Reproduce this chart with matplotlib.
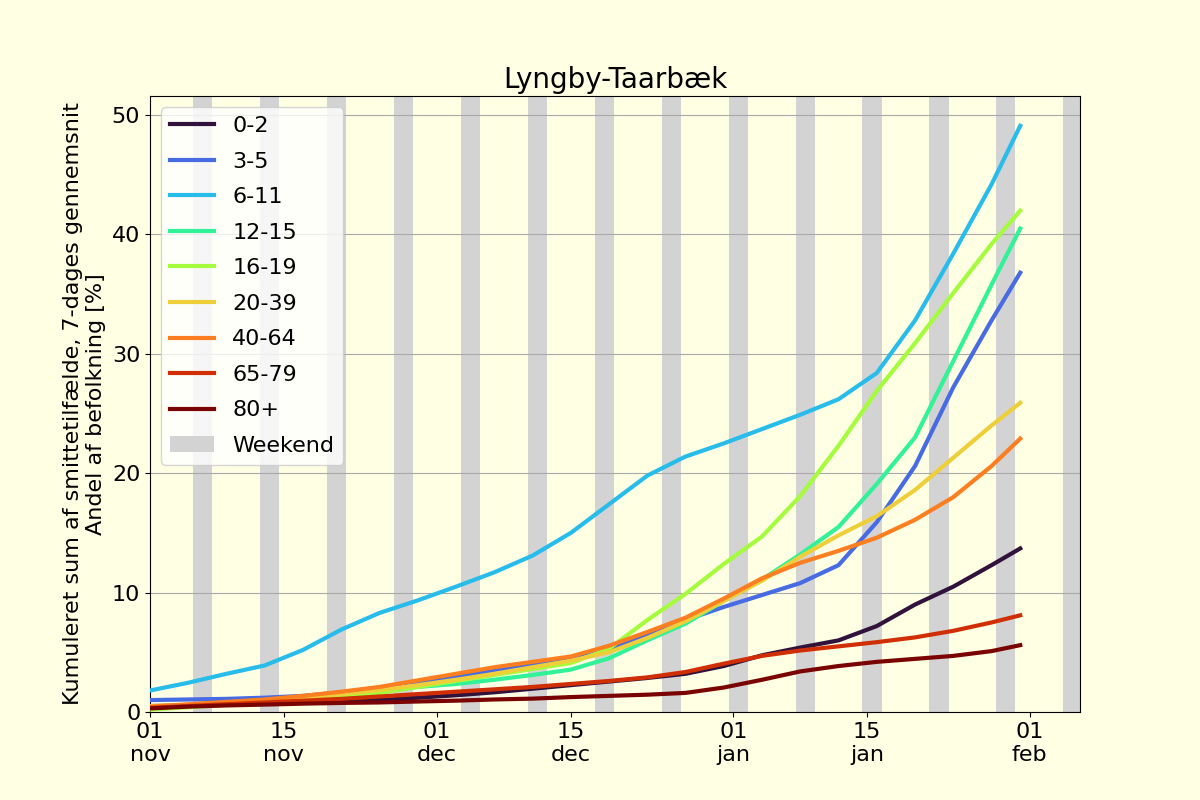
"""Cumulative case share per age group, Lyngby-Taarbaek."""

import datetime as dt

import matplotlib

matplotlib.use("Agg")
import matplotlib.dates as mdates
import matplotlib.pyplot as plt
import numpy as np
from matplotlib.patches import Patch

START = dt.datetime(2021, 11, 1)
DAYS = [0, 4, 8, 12, 16, 20, 24, 28, 32, 36, 40, 44, 48, 52, 56, 60, 64, 68, 72, 76, 80, 84, 88, 91]

AGE_GROUPS = ["0-2", "3-5", "6-11", "12-15", "16-19", "20-39", "40-64", "65-79", "80+"]

v_0_2 = [0.5, 0.55, 0.6, 0.7, 0.8, 0.9, 1.0, 1.2, 1.4, 1.65, 1.95, 2.25, 2.55, 2.85, 3.2, 3.85,
         4.75, 5.4, 6.0, 7.2, 9.0, 10.5, 12.3, 13.7]
v_3_5 = [1.0, 1.05, 1.1, 1.2, 1.35, 1.65, 2.0, 2.45, 2.95, 3.5, 4.0, 4.45, 5.3, 6.5, 7.7, 8.8,
         9.8, 10.8, 12.3, 15.9, 20.6, 27.2, 32.8, 36.8]
v_6_11 = [1.8, 2.45, 3.2, 3.9, 5.2, 6.9, 8.3, 9.35, 10.5, 11.7, 13.1, 15.0, 17.4, 19.8, 21.4, 22.5,
          23.7, 24.9, 26.2, 28.4, 32.8, 38.4, 44.2, 49.1]
v_12_15 = [0.3, 0.5, 0.75, 1.0, 1.25, 1.5, 1.75, 2.1, 2.35, 2.7, 3.1, 3.55, 4.5, 6.0, 7.4, 9.3,
           11.1, 13.2, 15.5, 19.1, 23.0, 29.4, 35.8, 40.5]
v_16_19 = [0.2, 0.4, 0.6, 0.8, 1.05, 1.35, 1.6, 2.1, 2.6, 3.1, 3.6, 4.1, 5.3, 7.7, 9.9, 12.4,
           14.7, 18.1, 22.3, 26.9, 30.9, 35.1, 39.2, 42.0]
v_20_39 = [0.5, 0.6, 0.75, 0.95, 1.2, 1.5, 1.85, 2.25, 2.7, 3.2, 3.75, 4.3, 5.0, 6.2, 7.6, 9.3,
           11.0, 13.0, 14.8, 16.4, 18.6, 21.3, 24.0, 25.9]
v_40_64 = [0.45, 0.65, 0.85, 1.05, 1.35, 1.7, 2.1, 2.65, 3.2, 3.75, 4.2, 4.65, 5.55, 6.7, 7.9, 9.5,
           11.2, 12.5, 13.5, 14.6, 16.1, 18.0, 20.6, 22.9]
v_65_79 = [0.35, 0.5, 0.65, 0.8, 0.95, 1.1, 1.3, 1.5, 1.7, 1.9, 2.1, 2.35, 2.6, 2.9, 3.35, 4.05,
           4.7, 5.15, 5.5, 5.85, 6.25, 6.8, 7.5, 8.1]
v_80 = [0.3, 0.45, 0.55, 0.62, 0.7, 0.76, 0.8, 0.88, 0.95, 1.05, 1.12, 1.25, 1.35, 1.45, 1.6, 2.05,
        2.7, 3.4, 3.85, 4.2, 4.45, 4.7, 5.1, 5.6]

SERIES = [v_0_2, v_3_5, v_6_11, v_12_15, v_16_19, v_20_39, v_40_64, v_65_79, v_80]

TICK_DATES = ["2021-11-01", "2021-11-15", "2021-12-01", "2021-12-15",
              "2022-01-01", "2022-01-15", "2022-02-01"]
TICK_LABELS = ["01\nnov", "15\nnov", "01\ndec", "15\ndec", "01\njan", "15\njan", "01\nfeb"]

BG = "#ffffe4"

dates = [START + dt.timedelta(days=d) for d in DAYS]
colors = plt.cm.turbo(np.linspace(0, 1, len(AGE_GROUPS)))

fig, ax = plt.subplots(figsize=(12, 8), dpi=100)
fig.patch.set_facecolor(BG)
ax.set_facecolor(BG)

# weekend bands
day = START
end = dt.datetime(2022, 2, 7)
while day < end:
    if day.weekday() == 5:
        ax.axvspan(day - dt.timedelta(hours=12), day + dt.timedelta(hours=36),
                   color="lightgray", zorder=0, lw=0)
    day += dt.timedelta(days=1)

for label, vals, col in zip(AGE_GROUPS, SERIES, colors):
    ax.plot(dates, vals, color=col, lw=3, label=label, zorder=3)

ax.grid(axis="y", color="darkgray", zorder=1)
ax.set_axisbelow(True)

ax.set_xlim(START, START + dt.timedelta(days=97.25))
ax.set_ylim(0, 51.6)
ax.set_xticks([mdates.datestr2num(d) for d in TICK_DATES])
ax.set_xticklabels(TICK_LABELS)
ax.tick_params(labelsize=16)

ax.set_title("Lyngby-Taarbæk", fontsize=20)
ax.set_ylabel("Kumuleret sum af smittetilfælde, 7-dages gennemsnit\nAndel af befolkning [%]",
              fontsize=16)

handles, labels = ax.get_legend_handles_labels()
handles.append(Patch(facecolor="lightgray", label="Weekend"))
labels.append("Weekend")
ax.legend(handles, labels, loc="upper left", fontsize=16, labelspacing=0.7)

fig.savefig("out.png", dpi=100, facecolor=BG)
